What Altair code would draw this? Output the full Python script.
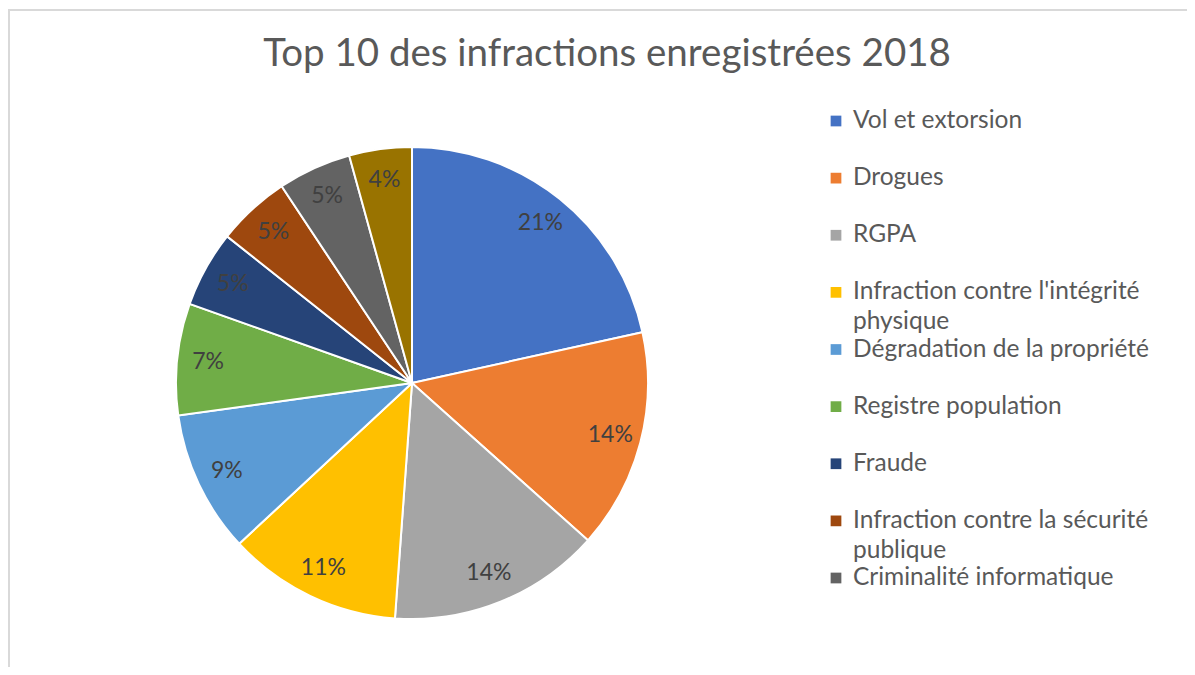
import altair as alt
import pandas as pd

# ---- data ----
categories = [
    "Vol et extorsion",
    "Drogues",
    "RGPA",
    "Infraction contre l'intégrité physique",
    "Dégradation de la propriété",
    "Registre population",
    "Fraude",
    "Infraction contre la sécurité publique",
    "Criminalité informatique",
    "Autres infractions",
]
values = [20.6, 14.4, 13.9, 11.4, 9.3, 7.3, 5.0, 4.8, 4.8, 4.1]
colors = ["#4472C4", "#ED7D31", "#A5A5A5", "#FFC000", "#5B9BD5",
          "#70AD47", "#264478", "#9E480E", "#636363", "#997300"]
legend_line1 = ["Vol et extorsion", "Drogues", "RGPA",
                "Infraction contre l'intégrité", "Dégradation de la propriété",
                "Registre population", "Fraude",
                "Infraction contre la sécurité", "Criminalité informatique"]
legend_line2 = ["", "", "", "physique", "", "", "", "publique", ""]
title_text = "Top 10 des infractions enregistrées 2018"

FONT = "Lato"
W, H = 1179, 659
CX, CY, R = 403, 374, 236

pie_df = pd.DataFrame({
    "cat": categories,
    "value": values,
    "idx": list(range(len(categories))),
    "label": [f"{round(v)}%" for v in values],
})
leg_df = pd.DataFrame({
    "cat": categories[:len(legend_line1)],
    "idx": list(range(len(legend_line1))),
    "l1": legend_line1,
    "l2": legend_line2,
})
title_df = pd.DataFrame({"t": [title_text]})

color_scale = alt.Scale(domain=categories, range=colors)
yscale = alt.Scale(domain=[0, 8], range=[112, 569])

arcs = alt.Chart(pie_df).mark_arc(outerRadius=R, stroke="white", strokeWidth=2).encode(
    theta=alt.Theta("value:Q", stack=True),
    color=alt.Color("cat:N", scale=color_scale, legend=None),
    order=alt.Order("idx:Q"),
    x=alt.value(CX), y=alt.value(CY),
)

pct = alt.Chart(pie_df).mark_text(radius=205, font=FONT, fontSize=23, color="#404040").encode(
    theta=alt.Theta("value:Q", stack=True),
    detail="cat:N",
    order=alt.Order("idx:Q"),
    text="label:N",
    x=alt.value(CX), y=alt.value(CY),
)

leg_sq = alt.Chart(leg_df).mark_square(size=115, opacity=1).encode(
    x=alt.value(827),
    y=alt.Y("idx:Q", scale=yscale, axis=None),
    color=alt.Color("cat:N", scale=color_scale, legend=None),
)

leg_t1 = alt.Chart(leg_df).mark_text(align="left", baseline="middle", font=FONT,
                                     fontSize=24.5, color="#595959").encode(
    x=alt.value(844),
    y=alt.Y("idx:Q", scale=yscale, axis=None),
    text="l1:N",
)

leg_t2 = alt.Chart(leg_df).mark_text(align="left", baseline="middle", font=FONT,
                                     fontSize=24.5, color="#595959", yOffset=30).encode(
    x=alt.value(844),
    y=alt.Y("idx:Q", scale=yscale, axis=None),
    text="l2:N",
)

title = alt.Chart(title_df).mark_text(align="center", baseline="alphabetic", font=FONT,
                                      fontSize=38.5, color="#595959").encode(
    x=alt.value(598), y=alt.value(57), text="t:N",
)

frame_top = alt.Chart(title_df).mark_rule(color="#d9d9d9", strokeWidth=2).encode(
    x=alt.value(0), x2=alt.value(W), y=alt.value(1),
)
frame_left = alt.Chart(title_df).mark_rule(color="#d9d9d9", strokeWidth=2).encode(
    x=alt.value(0), y=alt.value(0), y2=alt.value(H),
)

chart = alt.layer(
    frame_top, frame_left, arcs, pct, leg_sq, leg_t1, leg_t2, title
).properties(
    width=W, height=H, padding=0,
    autosize=alt.AutoSizeParams(type="fit", contains="padding"),
    background="white",
).configure_view(stroke=None)

chart.save("out.html", embed_options={"renderer": "svg", "actions": False})
